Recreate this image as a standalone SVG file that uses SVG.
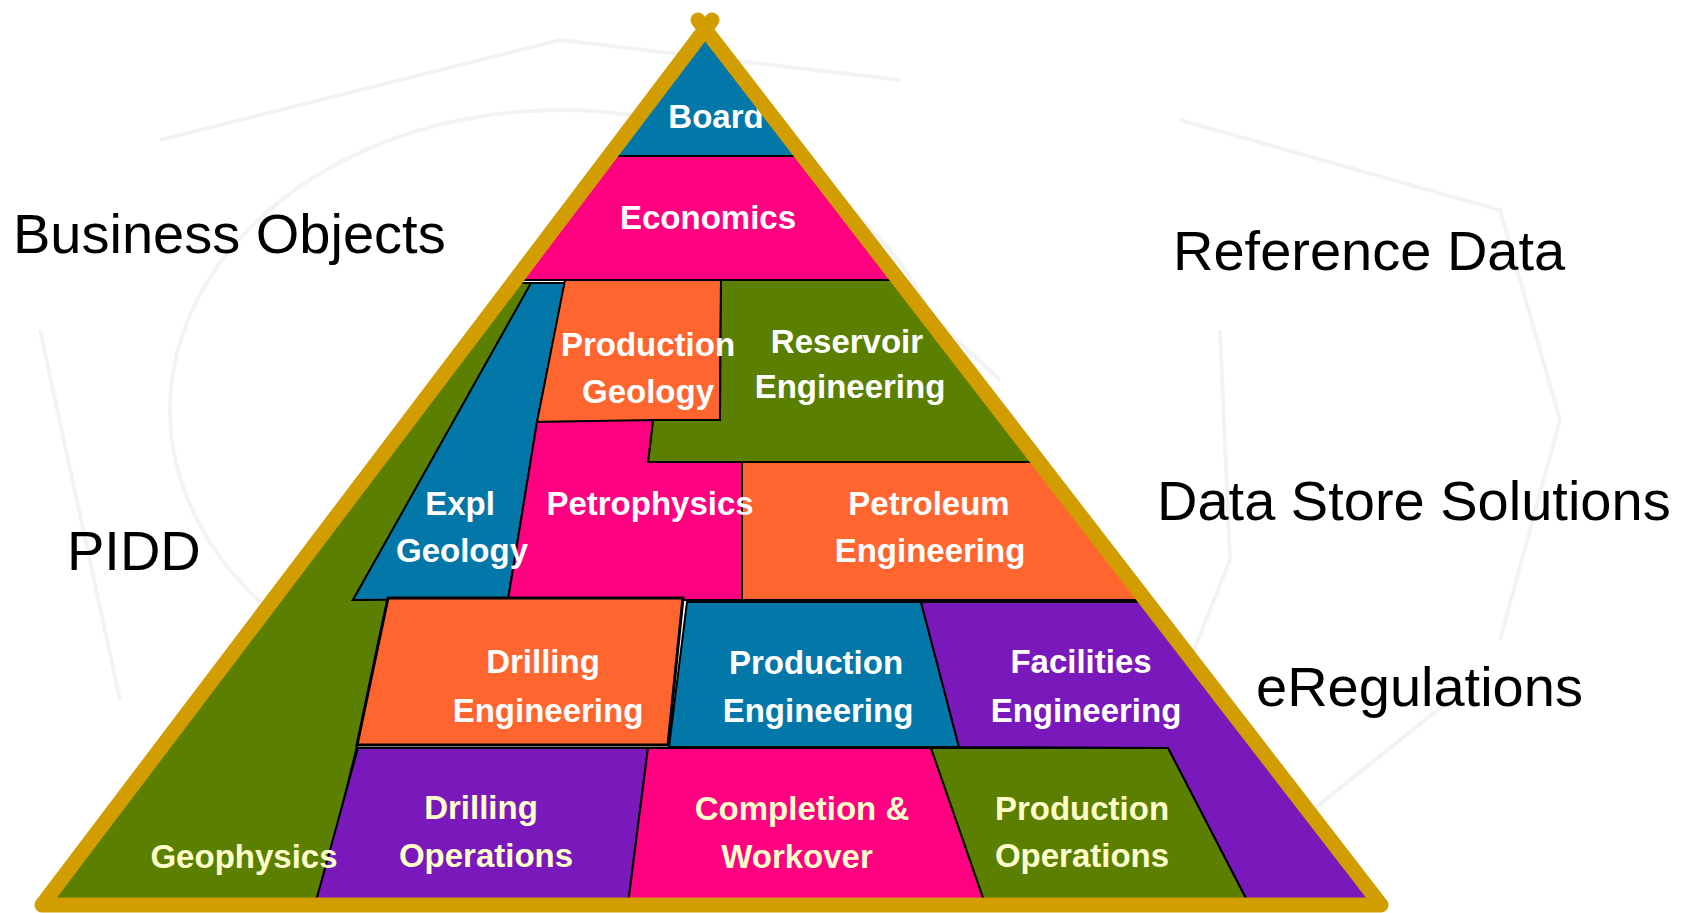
<svg xmlns="http://www.w3.org/2000/svg" width="1691" height="913" viewBox="0 0 1691 913">
<style>
.box{stroke:#000;stroke-width:2;stroke-linejoin:miter}
.blue{fill:#0377a8}.pink{fill:#ff0080}.orange{fill:#ff652f}.green{fill:#5b7f00}.purple{fill:#7a19bb}
.lbl{font-family:"Liberation Sans",Arial,sans-serif;font-weight:bold;font-size:33px;text-anchor:middle;fill:#ffffff}
.cream{fill:#ffffcc}
.side{font-family:"Liberation Sans",Arial,sans-serif;font-size:56px;fill:#000}
.wm{fill:none;stroke:#f3f3f3;stroke-width:4}
</style>
<defs>
<clipPath id="tri"><polygon points="705,30 42,905 1381,905"/></clipPath>
</defs>
<rect width="1691" height="913" fill="#ffffff"/>
<g id="watermark">
<ellipse class="wm" cx="560" cy="410" rx="390" ry="300"/>
<path class="wm" d="M160,140 L560,40 L900,80 M1180,120 L1500,210 L1560,420 L1500,640 M1450,700 L1250,860 M1000,900 L1150,760 L1230,560 L1220,330 M40,330 L120,700 M860,250 L1000,380"/>
</g>
<g clip-path="url(#tri)">
<g id="board"><rect class="box blue" x="500" y="0" width="420" height="156"/></g>
<g id="economics"><rect class="box pink" x="400" y="156" width="620" height="124"/></g>
<g id="geophysics"><polygon class="box green" points="0,283 533,283 353,600 388,598 357,746 317,910 0,910"/></g>
<g id="expl-geology"><polygon class="box blue" points="531,283 565,283 537,422 508,599 353,600"/></g>
<g id="production-geology"><polygon class="box orange" points="565,280 721,280 720,420 537,422"/></g>
<g id="reservoir-engineering"><polygon class="box green" points="721,280 1200,280 1200,462 648,462 653,420 720,420"/></g>
<g id="petrophysics"><polygon class="box pink" points="537,422 653,420 648,462 742,462 742,600 508,600"/></g>
<g id="petroleum-engineering"><polygon class="box orange" points="742,462 1300,462 1300,600 742,600"/></g>
<g id="production-engineering"><polygon class="box blue" points="687,602 921,602 959,747 669,747"/></g>
<g id="facilities-engineering"><polygon class="box purple" points="921,602 1450,602 1450,912 1253,912 1168,748 959,747"/></g>
<g id="drilling-operations"><polygon class="box purple" points="358,748 648,748 627,912 313,912"/></g>
<g id="completion-workover"><polygon class="box pink" points="648,748 931,748 988,912 627,912"/></g>
<g id="production-operations"><polygon class="box green" points="931,748 1168,748 1253,912 988,912"/></g>
<g id="drilling-engineering"><polygon class="box orange" style="stroke-width:3" points="388,598 683,598 668,745 357,745"/></g>
</g>
<g id="labels">
<text class="lbl" x="716" y="128">Board</text>
<text class="lbl" x="708" y="229">Economics</text>
<text class="lbl" x="648" y="356">Production</text>
<text class="lbl" x="648" y="403">Geology</text>
<text class="lbl" x="847" y="353">Reservoir</text>
<text class="lbl" x="850" y="398">Engineering</text>
<text class="lbl" x="460" y="515">Expl</text>
<text class="lbl" x="462" y="562">Geology</text>
<text class="lbl" x="650" y="515">Petrophysics</text>
<text class="lbl" x="929" y="515">Petroleum</text>
<text class="lbl" x="930" y="562">Engineering</text>
<text class="lbl" x="543" y="673">Drilling</text>
<text class="lbl" x="548" y="722">Engineering</text>
<text class="lbl" x="816" y="674">Production</text>
<text class="lbl" x="818" y="722">Engineering</text>
<text class="lbl" x="1081" y="673">Facilities</text>
<text class="lbl" x="1086" y="722">Engineering</text>
<text class="lbl cream" x="244" y="868">Geophysics</text>
<text class="lbl cream" x="481" y="819">Drilling</text>
<text class="lbl cream" x="486" y="867">Operations</text>
<text class="lbl cream" x="802" y="820">Completion &amp;</text>
<text class="lbl cream" x="797" y="868">Workover</text>
<text class="lbl cream" x="1082" y="820">Production</text>
<text class="lbl cream" x="1082" y="867">Operations</text>
</g>
<g id="frame"><path d="M712,20 L42,905 L1381,905 L698,20" fill="none" stroke="#d29d00" stroke-width="15" stroke-linejoin="round" stroke-linecap="round"/></g>
<g id="side-labels">
<text class="side" x="13" y="253">Business Objects</text>
<text class="side" x="67" y="570">PIDD</text>
<text class="side" x="1173" y="270">Reference Data</text>
<text class="side" x="1157" y="520">Data Store Solutions</text>
<text class="side" x="1256" y="706">eRegulations</text>
</g>
</svg>
